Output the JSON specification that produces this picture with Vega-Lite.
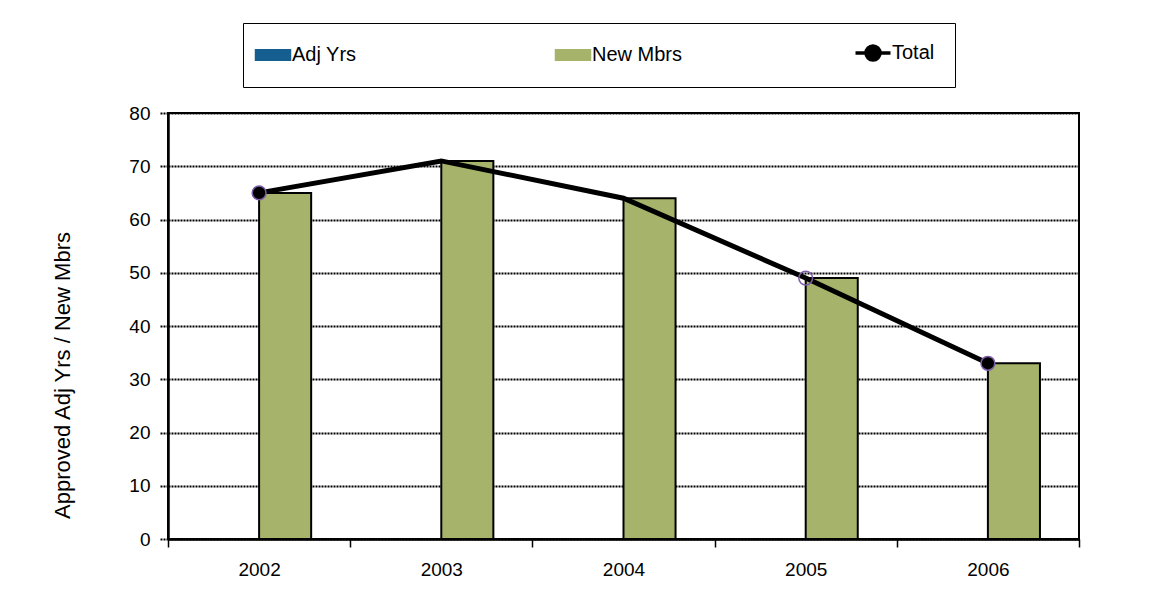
{
  "$schema": "https://vega.github.io/schema/vega-lite/v6.json",
  "width": 911,
  "height": 426,
  "autosize": "none",
  "padding": {"left": 168, "top": 113, "right": 94, "bottom": 50},
  "background": "white",
  "config": {
    "font": "Liberation Sans",
    "view": {"stroke": "black", "strokeWidth": 2}
  },
  "datasets": {
    "bars": [
      {"year": "2002", "series": "Adj Yrs", "value": 0},
      {"year": "2002", "series": "New Mbrs", "value": 65},
      {"year": "2003", "series": "Adj Yrs", "value": 0},
      {"year": "2003", "series": "New Mbrs", "value": 71},
      {"year": "2004", "series": "Adj Yrs", "value": 0},
      {"year": "2004", "series": "New Mbrs", "value": 64},
      {"year": "2005", "series": "Adj Yrs", "value": 0},
      {"year": "2005", "series": "New Mbrs", "value": 49},
      {"year": "2006", "series": "Adj Yrs", "value": 0},
      {"year": "2006", "series": "New Mbrs", "value": 33}
    ],
    "totals": [
      {"year": "2002", "value": 65},
      {"year": "2003", "value": 71},
      {"year": "2004", "value": 64},
      {"year": "2005", "value": 49},
      {"year": "2006", "value": 33}
    ]
  },
  "layer": [
    {
      "data": {"name": "bars"},
      "mark": {"type": "bar", "stroke": "black", "strokeWidth": 2},
      "encoding": {
        "x": {
          "field": "year",
          "type": "nominal",
          "scale": {"paddingInner": 0, "paddingOuter": 0},
          "axis": {
            "title": null,
            "labelAngle": 0,
            "tickBand": "extent",
            "grid": false,
            "domainColor": "black",
            "domainWidth": 2.5,
            "tickColor": "black",
            "tickWidth": 1.5,
            "tickSize": 8,
            "labelFontSize": 19,
            "labelPadding": 13,
            "labelColor": "black"
          }
        },
        "xOffset": {
          "field": "series",
          "sort": ["Adj Yrs", "New Mbrs"],
          "scale": {"paddingInner": 0, "paddingOuter": 0.75}
        },
        "y": {
          "field": "value",
          "type": "quantitative",
          "title": "Approved Adj Yrs / New Mbrs",
          "scale": {"domain": [0, 80]},
          "axis": {
            "values": [0, 10, 20, 30, 40, 50, 60, 70, 80],
            "grid": true,
            "gridDash": [2, 1],
            "gridColor": "black",
            "gridWidth": 2,
            "tickDash": [2, 1],
            "tickSize": 8,
            "tickWidth": 2,
            "tickColor": "black",
            "domainColor": "black",
            "domainWidth": 2.5,
            "labelFontSize": 19,
            "labelPadding": 10,
            "labelColor": "black",
            "titleFontSize": 22,
            "titleFontWeight": "normal",
            "titleColor": "black",
            "titleX": -106,
            "titleY": 262,
            "titleBaseline": "middle"
          }
        },
        "color": {
          "field": "series",
          "type": "nominal",
          "scale": {
            "domain": ["Adj Yrs", "New Mbrs", "Total"],
            "range": ["#145F8F", "#A6B46B", "black"]
          },
          "legend": {
            "title": null,
            "orient": "none",
            "legendX": 75,
            "legendY": -90,
            "direction": "horizontal",
            "symbolSize": 1225,
            "symbolType": "M-1,-0.3H1V0.3H-1Z",
            "symbolStrokeColor": "black",
            "symbolStrokeWidth": 1.5,
            "symbolOpacity": 1,
            "labelFontSize": 20,
            "labelColor": "black",
            "labelOffset": 9,
            "columnPadding": 165,
            "gridAlign": "all",
            "padding": 20,
            "fillColor": "white",
            "strokeColor": "black",
            "encode": {
              "symbols": {
                "update": {
                  "shape": {"signal": "datum.value === 'Total' ? 'M-1,0H1M-0.4,0A0.4,0.4 0 1,1 0.4,0A0.4,0.4 0 1,1 -0.4,0Z' : 'M-1,-0.3H1V0.3H-1Z'"},
                  "strokeWidth": {"signal": "datum.value === 'Total' ? 3.5 : 1.5"}
                }
              }
            }
          }
        }
      }
    },
    {
      "data": {"name": "totals"},
      "mark": {"type": "line", "strokeWidth": 5},
      "encoding": {
        "x": {"field": "year", "type": "nominal"},
        "y": {"field": "value", "type": "quantitative", "title": "Approved Adj Yrs / New Mbrs"},
        "color": {"datum": "Total", "type": "nominal"}
      }
    },
    {
      "data": {"name": "totals"},
      "transform": [{"filter": {"field": "year", "oneOf": ["2002", "2005", "2006"]}}],
      "mark": {"type": "circle", "size": 190, "stroke": "#7B5CA6", "strokeWidth": 1.5, "opacity": 1},
      "encoding": {
        "x": {"field": "year", "type": "nominal"},
        "y": {"field": "value", "type": "quantitative", "title": "Approved Adj Yrs / New Mbrs"},
        "fill": {
          "condition": {"test": "datum.year === '2005'", "value": "transparent"},
          "value": "black"
        }
      }
    }
  ]
}
